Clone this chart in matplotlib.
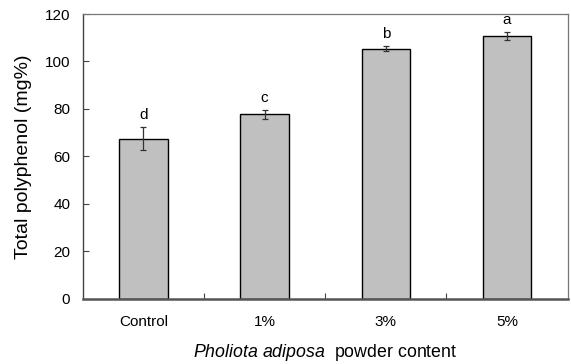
import matplotlib
matplotlib.use("Agg")
import matplotlib.pyplot as plt

categories = ["Control", "1%", "3%", "5%"]
values = [67.5, 77.8, 105.4, 110.7]
errors = [4.8, 1.9, 1.2, 1.8]
letters = ["d", "c", "b", "a"]
yticks = [0, 20, 40, 60, 80, 100, 120]

plt.rcParams['font.family'] = ['Liberation Sans', 'DejaVu Sans']
plt.rcParams['mathtext.fontset'] = 'custom'
plt.rcParams['mathtext.rm'] = 'Liberation Sans'
plt.rcParams['mathtext.it'] = 'Liberation Sans:italic'

FS = 11

fig = plt.figure(figsize=(5.71, 3.64), dpi=100)
ax = fig.add_axes([0.1448, 0.1794, 0.9942 - 0.1448, 0.9615 - 0.1794])

x = list(range(len(categories)))
ax.bar(x, values, width=0.4, color="#c0c0c0", edgecolor="black", linewidth=1.0, zorder=2)
ax.errorbar(x, values, yerr=errors, fmt='none', ecolor="#333333", elinewidth=0.9,
            capsize=2.2, capthick=0.9, zorder=3)
for xi, v, e, l in zip(x, values, errors, letters):
    ax.text(xi, v + e + 5, l, ha='center', va='center', fontsize=FS)

ax.set_xlim(-0.5, len(categories) - 0.5)
ax.set_ylim(0, 120)
ax.set_yticks(yticks)
ax.set_yticklabels([str(t) for t in yticks], fontsize=FS)
ax.set_xticks([i + 0.5 for i in range(len(categories) - 1)])
ax.set_xticklabels([])
ax.set_xticks(x, minor=True)
ax.set_xticklabels(categories, minor=True, fontsize=FS)
ax.tick_params(axis='x', which='major', direction='in', length=4, width=0.8, color='#444444')
ax.tick_params(axis='x', which='minor', length=0, pad=12)
ax.tick_params(axis='y', direction='in', length=4, width=0.8, color='#444444', pad=9)

for s in ['top', 'right']:
    ax.spines[s].set_color('#777777')
    ax.spines[s].set_linewidth(0.9)
ax.spines['left'].set_color('#444444')
ax.spines['left'].set_linewidth(1.0)
ax.spines['bottom'].set_color('#555555')
ax.spines['bottom'].set_linewidth(1.8)

ax.set_ylabel("Total polyphenol (mg%)", fontsize=14)
ax.yaxis.set_label_coords(-0.105, 0.5)
ax.set_xlabel(r"$\it{Pholiota\ adiposa}$  powder content", fontsize=12.8)
ax.xaxis.set_label_coords(0.5, -0.153)

fig.savefig("out.png", dpi=100)
